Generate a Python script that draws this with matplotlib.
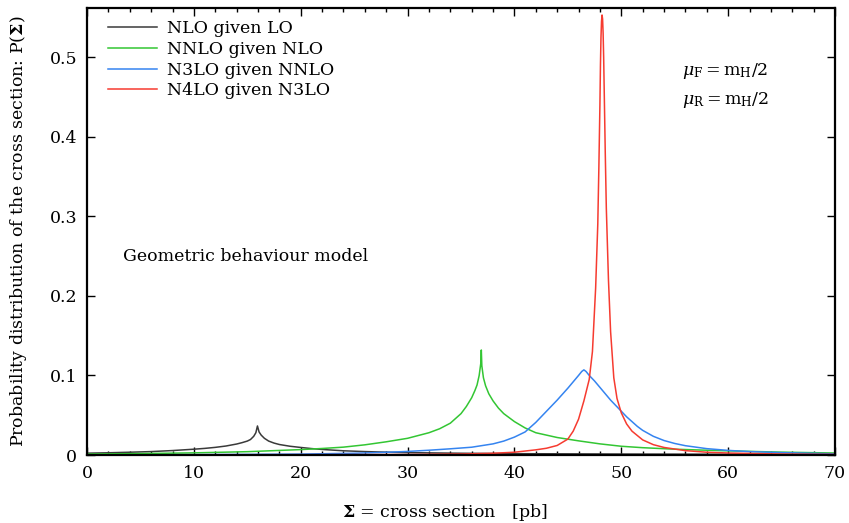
import matplotlib
matplotlib.use("Agg")
import matplotlib.pyplot as plt
from matplotlib.ticker import MultipleLocator

# NLO given LO
nlo_x = [0, 2, 4, 6, 8, 10, 11, 12, 13, 14, 14.5, 15, 15.3, 15.6, 15.8, 15.95,
         16.1, 16.3, 16.6, 17, 17.5, 18, 19, 20, 21, 22, 24, 26, 28, 30, 35, 40, 50, 60, 70]
nlo_y = [0.0023, 0.0028, 0.0035, 0.0043, 0.0056, 0.0073, 0.0083, 0.0096, 0.0113, 0.0138,
         0.0155, 0.0175, 0.0195, 0.0235, 0.028, 0.0365,
         0.029, 0.025, 0.021, 0.0175, 0.015, 0.0132, 0.011, 0.0095, 0.0081, 0.007,
         0.0053, 0.0043, 0.0036, 0.003, 0.0022, 0.0017, 0.0012, 0.0009, 0.0007]

# NNLO given NLO
nnlo_x = [0, 5, 10, 15, 20, 22, 24, 26, 28, 30, 32, 33, 34, 35, 35.5, 36, 36.3, 36.5,
          36.7, 36.85, 36.9, 36.95, 37.1, 37.3, 37.6, 38, 38.5, 39, 40, 41, 42, 44, 46, 48,
          50, 52, 55, 58, 60, 65, 70]
nnlo_y = [0.0012, 0.0018, 0.0027, 0.0042, 0.0068, 0.0082, 0.0099, 0.0128, 0.0166, 0.021,
          0.028, 0.033, 0.040, 0.052, 0.061, 0.072, 0.081, 0.088,
          0.100, 0.115, 0.132, 0.112, 0.097, 0.087, 0.077, 0.068, 0.059, 0.052, 0.042, 0.034,
          0.028, 0.022, 0.0178, 0.014, 0.011, 0.0092, 0.0073, 0.006, 0.0052, 0.0036, 0.0025]

# N3LO given NNLO
n3lo_x = [0, 10, 20, 25, 28, 30, 32, 34, 36, 38, 39, 40, 41, 42, 43, 44, 45, 45.5, 46,
          46.3, 46.5, 46.7, 47, 47.5, 48, 48.5, 49, 49.5, 50, 50.5, 51, 51.5, 52, 53, 54,
          55, 56, 58, 60, 62, 65, 70]
n3lo_y = [0.0002, 0.0004, 0.0012, 0.0022, 0.0034, 0.0045, 0.006, 0.0078, 0.0098, 0.014,
          0.0175, 0.0225, 0.029, 0.041, 0.055, 0.069, 0.084, 0.092, 0.100,
          0.105, 0.107, 0.105, 0.100, 0.093, 0.085, 0.077, 0.069, 0.062, 0.055, 0.048,
          0.042, 0.036, 0.031, 0.0235, 0.0182, 0.0145, 0.0117, 0.008, 0.0058, 0.0043,
          0.003, 0.0015]

# N4LO given N3LO
n4lo_x = [0, 10, 20, 30, 35, 38, 40, 42, 43, 44, 45, 45.5, 46, 46.5, 47, 47.3, 47.6,
          47.8, 47.9, 48.0, 48.05, 48.1, 48.15, 48.2, 48.25, 48.3, 48.35, 48.4, 48.5,
          48.6, 48.8, 49.0, 49.3, 49.6, 50, 50.5, 51, 52, 53, 54, 56, 58, 60, 65, 70]
n4lo_y = [0.0003, 0.0003, 0.0004, 0.0006, 0.0012, 0.0022, 0.0035, 0.0065, 0.0085, 0.012,
          0.02, 0.03, 0.045, 0.068, 0.095, 0.13, 0.21,
          0.29, 0.36, 0.44, 0.49, 0.525, 0.545, 0.553, 0.548, 0.53, 0.50, 0.46, 0.38,
          0.31, 0.22, 0.155, 0.097, 0.071, 0.053, 0.039, 0.030, 0.019, 0.013, 0.0095,
          0.0055, 0.0035, 0.0025, 0.0012, 0.0007]

labels = ["NLO given LO", "NNLO given NLO", "N3LO given NNLO", "N4LO given N3LO"]
colors = ["#3a3a3a", "#33c633", "#3584f0", "#f63b30"]

plt.rcParams["font.family"] = ["DejaVu Serif"]
plt.rcParams["mathtext.fontset"] = "dejavuserif"
plt.rcParams["font.size"] = 12.5

fig = plt.figure(figsize=(8.49, 5.23), dpi=100)
ax = fig.add_axes([0.1025, 0.130, 0.881, 0.855])

series = [(nlo_x, nlo_y), (nnlo_x, nnlo_y), (n3lo_x, n3lo_y), (n4lo_x, n4lo_y)]
for (xs, ys), lab, col in zip(series, labels, colors):
    ax.plot(xs, ys, color=col, lw=1.1, label=lab)

ax.set_xlim(0, 70)
ax.set_ylim(0, 0.562)
ax.xaxis.set_major_locator(MultipleLocator(10))
ax.xaxis.set_minor_locator(MultipleLocator(2))
ax.set_yticks([0, 0.1, 0.2, 0.3, 0.4, 0.5])
ax.set_yticklabels(["0", "0.1", "0.2", "0.3", "0.4", "0.5"])
ax.tick_params(which="both", direction="in", top=True, right=True, width=1.0)
ax.tick_params(which="major", length=6, pad=7)
ax.tick_params(which="minor", length=3)
for s in ax.spines.values():
    s.set_linewidth(1.6)

ax.set_xlabel(r"$\mathbf{\Sigma}$ = cross section   [pb]")
ax.xaxis.set_label_coords(0.479, -0.105)
ax.set_ylabel(r"Probability distribution of the cross section: P($\mathbf{\Sigma}$)")
ax.yaxis.set_label_coords(-0.077, 0.5)

ax.legend(loc="upper left", frameon=False, handlelength=2.8, handletextpad=0.6,
          labelspacing=0.22, borderaxespad=0.3, bbox_to_anchor=(0.012, 1.0))

ax.text(3.4, 0.25, "Geometric behaviour model", va="center", ha="left")
ax.text(55.7, 0.482, r"$\mu_{\mathrm{F}} = \mathrm{m_H}/2$", va="center", ha="left")
ax.text(55.7, 0.446, r"$\mu_{\mathrm{R}} = \mathrm{m_H}/2$", va="center", ha="left")

fig.savefig("out.png", dpi=100)
